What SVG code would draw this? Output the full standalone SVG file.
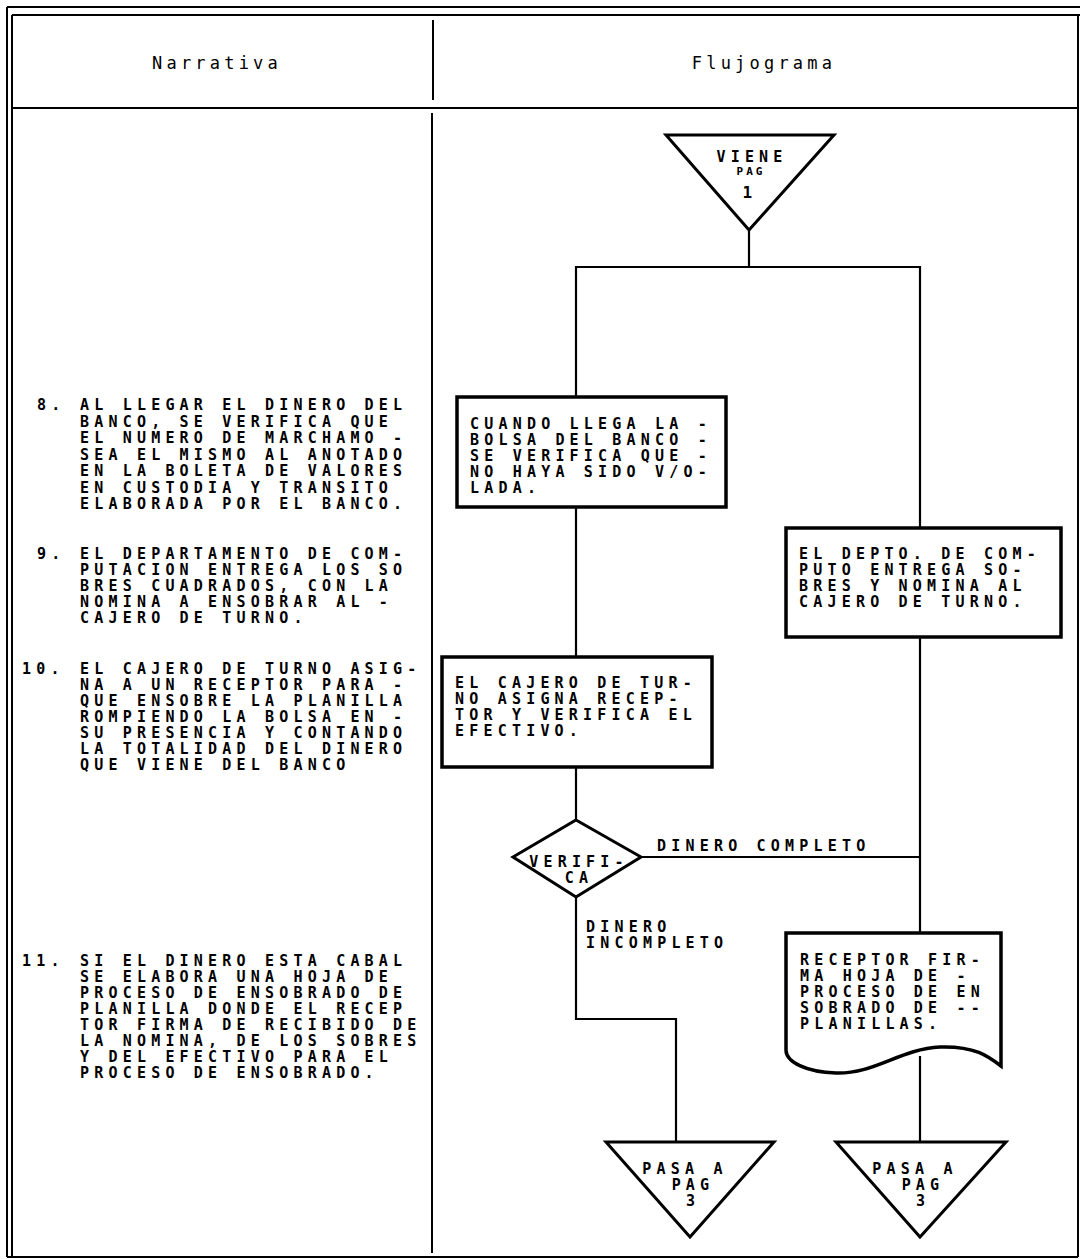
<svg xmlns="http://www.w3.org/2000/svg" width="1081" height="1259" viewBox="0 0 1081 1259">
<style>
.frame{stroke:#000;stroke-width:2;fill:none}
.box{fill:#fff;stroke:#000;stroke-width:3.5}
.tri{fill:#fff;stroke:#000;stroke-width:3}
.conn{stroke:#000;stroke-width:2.2;fill:none}
.t{font-family:"DejaVu Sans Mono","Liberation Mono",monospace;font-weight:bold;font-size:15px;letter-spacing:5.2px;fill:#000}
.h{font-family:"DejaVu Sans Mono","Liberation Mono",monospace;font-size:17px;letter-spacing:4.2px;fill:#000}
.m{text-anchor:middle}
</style>
<rect width="1081" height="1259" fill="#fff"/>
<g id="frame">
<line class="frame" x1="7" y1="7" x2="1080" y2="7"/>
<line class="frame" x1="12" y1="15" x2="1080" y2="15"/>
<line class="frame" x1="7" y1="7" x2="7" y2="1257"/>
<line class="frame" x1="12" y1="15" x2="12" y2="1257"/>
<line class="frame" x1="1078" y1="15" x2="1078" y2="1257"/>
<line class="frame" x1="7" y1="1257" x2="1078" y2="1257"/>
<line class="frame" x1="12" y1="108" x2="1078" y2="108" stroke-width="2.5"/>
<line class="frame" x1="433" y1="20" x2="433" y2="100"/>
<line class="frame" x1="432" y1="113" x2="432" y2="1253" stroke-width="2.5"/>
<text class="h m" x="217" y="69">Narrativa</text>
<text class="h m" x="764" y="69">Flujograma</text>
</g>
<g id="narrative">
<text class="t" x="37" y="410">8.</text>
<text class="t" x="80" y="410">AL LLEGAR EL DINERO DEL</text>
<text class="t" x="80" y="426.5">BANCO, SE VERIFICA QUE</text>
<text class="t" x="80" y="443">EL NUMERO DE MARCHAMO -</text>
<text class="t" x="80" y="459.5">SEA EL MISMO AL ANOTADO</text>
<text class="t" x="80" y="476">EN LA BOLETA DE VALORES</text>
<text class="t" x="80" y="492.5">EN CUSTODIA Y TRANSITO</text>
<text class="t" x="80" y="509">ELABORADA POR EL BANCO.</text>
<text class="t" x="37" y="559">9.</text>
<text class="t" x="80" y="559">EL DEPARTAMENTO DE COM-</text>
<text class="t" x="80" y="575">PUTACION ENTREGA LOS SO</text>
<text class="t" x="80" y="591">BRES CUADRADOS, CON LA</text>
<text class="t" x="80" y="607">NOMINA A ENSOBRAR AL -</text>
<text class="t" x="80" y="623">CAJERO DE TURNO.</text>
<text class="t" x="22" y="674">10.</text>
<text class="t" x="80" y="674">EL CAJERO DE TURNO ASIG-</text>
<text class="t" x="80" y="690">NA A UN RECEPTOR PARA -</text>
<text class="t" x="80" y="706">QUE ENSOBRE LA PLANILLA</text>
<text class="t" x="80" y="722">ROMPIENDO LA BOLSA EN -</text>
<text class="t" x="80" y="738">SU PRESENCIA Y CONTANDO</text>
<text class="t" x="80" y="754">LA TOTALIDAD DEL DINERO</text>
<text class="t" x="80" y="770">QUE VIENE DEL BANCO</text>
<text class="t" x="22" y="966">11.</text>
<text class="t" x="80" y="966">SI EL DINERO ESTA CABAL</text>
<text class="t" x="80" y="982">SE ELABORA UNA HOJA DE</text>
<text class="t" x="80" y="998">PROCESO DE ENSOBRADO DE</text>
<text class="t" x="80" y="1014">PLANILLA DONDE EL RECEP</text>
<text class="t" x="80" y="1030">TOR FIRMA DE RECIBIDO DE</text>
<text class="t" x="80" y="1046">LA NOMINA, DE LOS SOBRES</text>
<text class="t" x="80" y="1062">Y DEL EFECTIVO PARA EL</text>
<text class="t" x="80" y="1078">PROCESO DE ENSOBRADO.</text>
</g>
<g id="connectors">
<polyline class="conn" points="749,230 749,267"/>
<polyline class="conn" points="576,397 576,267 920,267 920,528"/>
<polyline class="conn" points="576,507 576,657"/>
<polyline class="conn" points="576,767 576,820"/>
<polyline class="conn" points="576,897 576,1019 676,1019 676,1142"/>
<polyline class="conn" points="641,857 920,857"/>
<polyline class="conn" points="920,637 920,933"/>
<polyline class="conn" points="920,1056 920,1142"/>
<text class="t" x="657" y="851">DINERO COMPLETO</text>
<text class="t" x="586" y="932">DINERO</text>
<text class="t" x="586" y="948">INCOMPLETO</text>
</g>
<g id="viene-pag-1">
<polygon class="tri" points="666,135 834,135 749,230"/>
<text class="t m" x="752" y="162">VIENE</text>
<text class="t m" x="751" y="175" style="font-size:11px;letter-spacing:3px">PAG</text>
<text class="t m" x="750" y="198" style="font-size:16px">1</text>
</g>
<g id="box-bolsa">
<rect class="box" x="457" y="397" width="269" height="110"/>
<text class="t" x="470" y="429">CUANDO LLEGA LA -</text>
<text class="t" x="470" y="445">BOLSA DEL BANCO -</text>
<text class="t" x="470" y="461">SE VERIFICA QUE -</text>
<text class="t" x="470" y="477">NO HAYA SIDO V/O-</text>
<text class="t" x="470" y="493">LADA.</text>
</g>
<g id="box-depto">
<rect class="box" x="786" y="528" width="275" height="109"/>
<text class="t" x="799" y="559">EL DEPTO. DE COM-</text>
<text class="t" x="799" y="575">PUTO ENTREGA SO-</text>
<text class="t" x="799" y="591">BRES Y NOMINA AL</text>
<text class="t" x="799" y="607">CAJERO DE TURNO.</text>
</g>
<g id="box-cajero">
<rect class="box" x="442" y="657" width="270" height="110"/>
<text class="t" x="455" y="688">EL CAJERO DE TUR-</text>
<text class="t" x="455" y="704">NO ASIGNA RECEP-</text>
<text class="t" x="455" y="720">TOR Y VERIFICA EL</text>
<text class="t" x="455" y="736">EFECTIVO.</text>
</g>
<g id="verifica">
<polygon class="tri" points="576,820 641,857 576,897 513,857"/>
<text class="t m" x="579" y="867">VERIFI-</text>
<text class="t m" x="579" y="883">CA</text>
</g>
<g id="doc-receptor">
<path class="box" d="M786,933 H1001 V1066 C988,1056 975,1046 940,1047 C900,1049 875,1074 836,1073 C806,1072 786,1062 786,1050 Z"/>
<text class="t" x="800" y="965">RECEPTOR FIR-</text>
<text class="t" x="800" y="981">MA HOJA DE -</text>
<text class="t" x="800" y="997">PROCESO DE EN</text>
<text class="t" x="800" y="1013">SOBRADO DE --</text>
<text class="t" x="800" y="1029">PLANILLAS.</text>
</g>
<g id="pasa-a-3-left">
<polygon class="tri" points="606,1142 774,1142 690,1237"/>
<text class="t m" x="685" y="1174">PASA A</text>
<text class="t m" x="693" y="1190">PAG</text>
<text class="t m" x="693" y="1206">3</text>
</g>
<g id="pasa-a-3-right">
<polygon class="tri" points="836,1142 1006,1142 920,1237"/>
<text class="t m" x="915" y="1174">PASA A</text>
<text class="t m" x="923" y="1190">PAG</text>
<text class="t m" x="923" y="1206">3</text>
</g>
</svg>
